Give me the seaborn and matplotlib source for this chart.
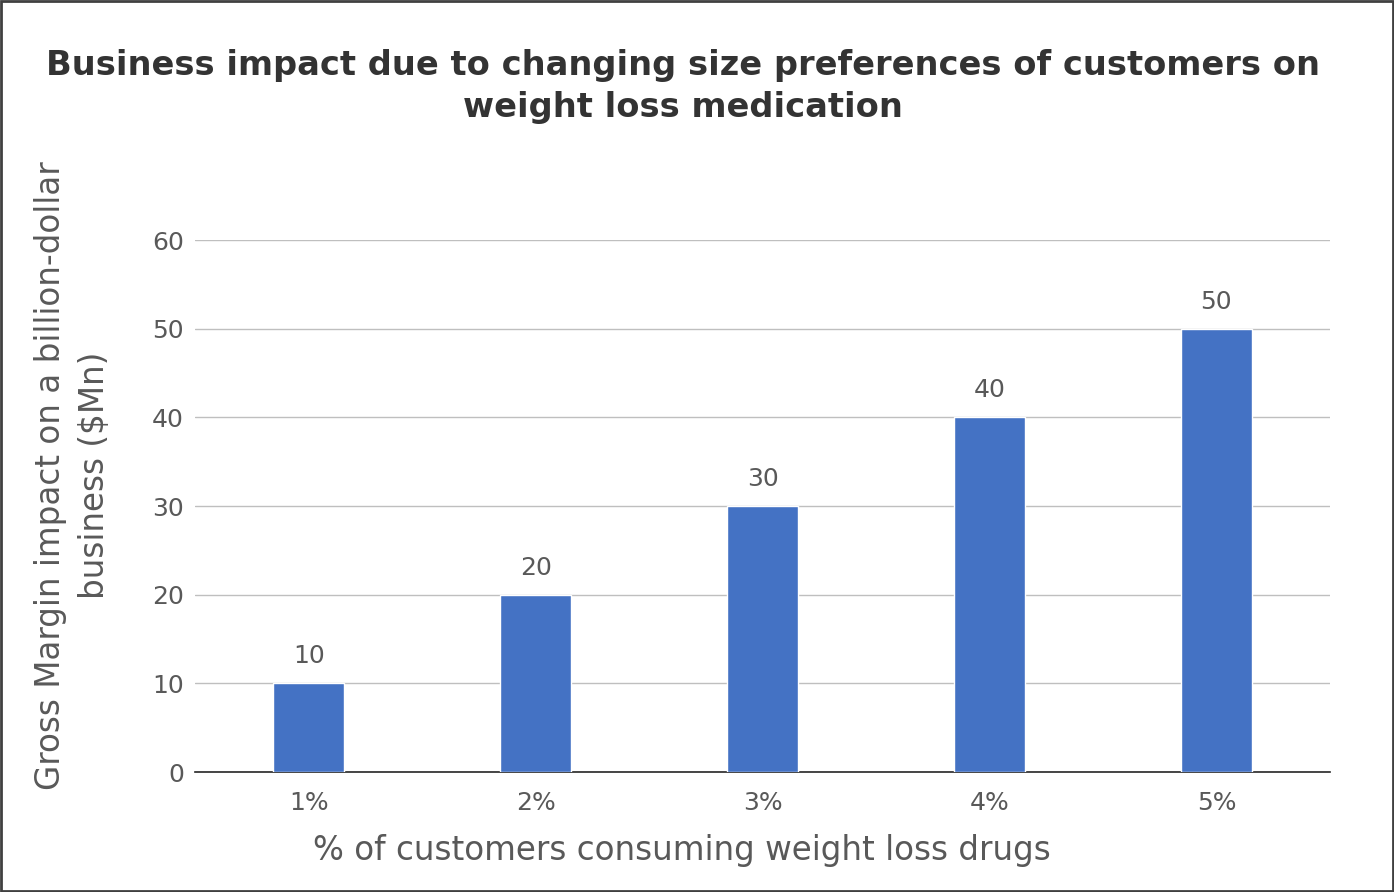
import matplotlib
matplotlib.use("Agg")
import matplotlib.pyplot as plt
import seaborn as sns
import pandas as pd

#chart data
categories = ['1%', '2%', '3%', '4%', '5%']
margin_impact = [10, 20, 30, 40, 50]
y_ticks = [0, 10, 20, 30, 40, 50, 60]

df = pd.DataFrame({'share': categories, 'impact': margin_impact})

sns.set_theme(style='white')
plt.rcParams['font.family'] = ['DejaVu Sans']

grey = '#595959'
fig = plt.figure(figsize=(13.94, 8.92), dpi=100)
ax = fig.add_axes([0.140, 0.1345, 0.814, 0.5964])

sns.barplot(data=df, x='share', y='impact', color='#4472C4', width=0.31,
            saturation=1, ax=ax, zorder=3)

for bar, v in zip(ax.patches, margin_impact):
    ax.text(bar.get_x() + bar.get_width() / 2, v + 1.7, str(v),
            ha='center', va='bottom', fontsize=18, color=grey)

ax.set_ylim(0, 60)
ax.set_yticks(y_ticks)
ax.yaxis.grid(True, color='#BFBFBF', linewidth=1, zorder=0)
for s in ['top', 'right', 'left']:
    ax.spines[s].set_visible(False)
ax.spines['bottom'].set_color('#262626')
ax.spines['bottom'].set_linewidth(1.2)
ax.tick_params(axis='y', labelsize=18, colors=grey, length=0, pad=8)
ax.tick_params(axis='x', labelsize=18, colors=grey, length=0, pad=14)
ax.set_xlabel('')
ax.set_ylabel('')

# axis titles placed like the original
fig.text(0.489, 0.047, '% of customers consuming weight loss drugs', fontsize=23.5,
         color=grey, ha='center', va='center')
fig.text(0.052, 0.467, 'Gross Margin impact on a billion-dollar\nbusiness ($Mn)',
         fontsize=23.5, color=grey, ha='center', va='center', rotation=90,
         multialignment='center', linespacing=1.45)

fig.text(0.49, 0.903, 'Business impact due to changing size preferences of customers on\nweight loss medication',
         ha='center', va='center', fontsize=24.2, fontweight='bold', color='#333333',
         linespacing=1.35)

# outer frame
fig.patches.append(plt.Rectangle((0.001, 0.0015), 0.998, 0.997, transform=fig.transFigure,
                                 fill=False, edgecolor='#404040', linewidth=2))

fig.savefig('out.png', dpi=100)
